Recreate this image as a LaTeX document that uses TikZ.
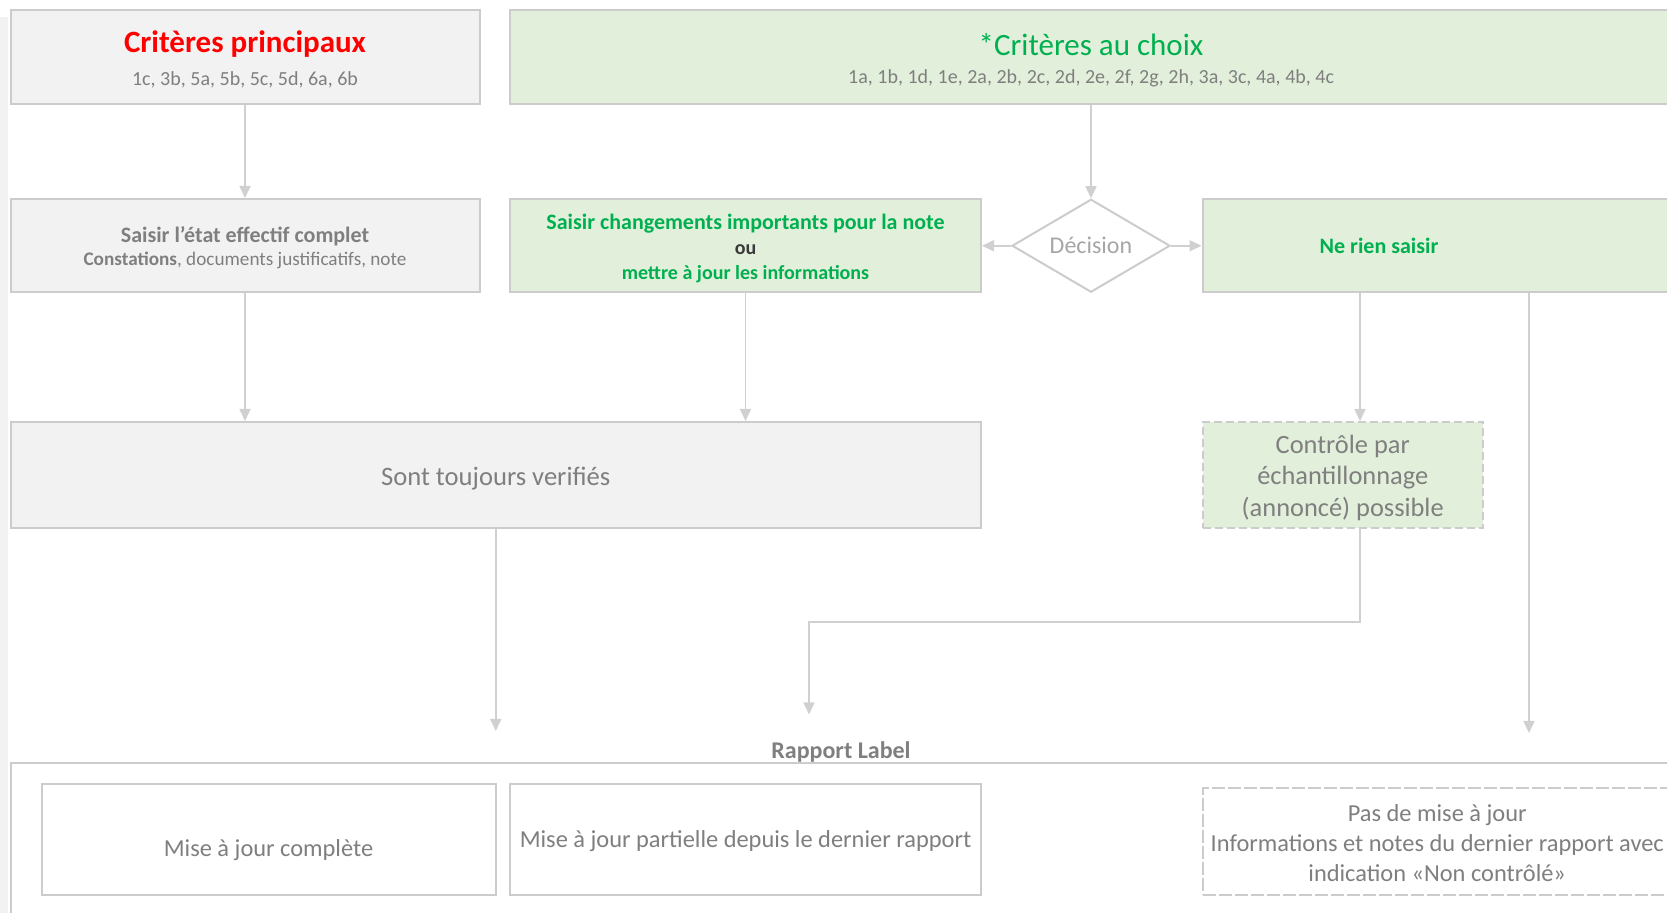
\documentclass[tikz,border=0pt]{standalone}
\usepackage{fontspec}
\setmainfont{Carlito}
\usetikzlibrary{shapes.geometric,arrows.meta}
\definecolor{boxgray}{HTML}{F2F2F2}
\definecolor{boxgreen}{HTML}{E2EFDA}
\definecolor{edge}{HTML}{CCCCCC}
\definecolor{arr}{HTML}{D0D0D0}
\definecolor{txtgray}{HTML}{7F7F7F}
\definecolor{lightgray2}{HTML}{A6A6A6}
\definecolor{darktxt}{HTML}{3A3A3A}
\definecolor{titred}{HTML}{FF0000}
\definecolor{titgreen}{HTML}{00B050}
\newcommand{\fs}[2]{\fontsize{#1}{#2}\selectfont}
\newcommand{\dn}[2]{\raisebox{-#1}[\height][\depth]{#2}}
\begin{document}
\begin{tikzpicture}[x=0.5pt,y=-0.5pt,
  box/.style={draw=edge,line width=1pt,inner sep=0pt,align=center,text=txtgray},
  graybox/.style={box,fill=boxgray},
  greenbox/.style={box,fill=boxgreen},
  whitebox/.style={box,fill=white},
  link/.style={draw=arr,line width=0.8pt,-{Triangle[length=6pt,width=5.5pt]}}]
\useasboundingbox (0,0) rectangle (1667,913);
\fill[boxgray] (0,17) rectangle (8,913);

% top row
\node[graybox,minimum width=234.5pt,minimum height=47pt,font=\fs{10}{17.5}] (A) at (245,57.5)
  {\dn{1.6pt}{\fs{15.5}{17.5}\bfseries\color{titred}Critères principaux}\\\dn{0.5pt}{1c, 3b, 5a, 5b, 5c, 5d, 6a, 6b}};
\node[greenbox,minimum width=581pt,minimum height=47pt,font=\fs{10}{15.5}] (B) at (1091,57.5)
  {\dn{2.1pt}{\fs{15.5}{15.5}\color{titgreen}*Critères au choix}\\\dn{0.5pt}{1a, 1b, 1d, 1e, 2a, 2b, 2c, 2d, 2e, 2f, 2g, 2h, 3a, 3c, 4a, 4b, 4c}};

% second row
\node[graybox,minimum width=234.5pt,minimum height=46.75pt,font=\fs{9.6}{12}] (C) at (245,245.75)
  {\dn{1pt}{\fs{11}{12}\bfseries Saisir l’état effectif complet}\\\dn{0.5pt}{\textbf{Constations}, documents justificatifs, note}};
\node[greenbox,minimum width=235.5pt,minimum height=46.75pt,font=\fs{10}{12.75}\bfseries,text=titgreen] (D) at (745.5,245.75)
  {\dn{1.6pt}{\fs{11}{12.75}Saisir changements importants pour la note}\\\dn{1.6pt}{\color{darktxt}ou}\\\dn{1pt}{mettre à jour les informations}};
\node[draw=edge,line width=1pt,fill=white,diamond,aspect=1.8,inner sep=0pt,minimum width=79pt,minimum height=46.5pt,
  text=lightgray2,font=\fs{12}{14}] (dec) at (1091,245.75) {Décision};
\node[greenbox,minimum width=243.5pt,minimum height=46.75pt] (E) at (1446,245.75) {};
\node[font=\fs{11}{13}\bfseries,text=titgreen,inner sep=0pt] (El) at (1379,245.75) {Ne rien saisir};

% third row
\node[graybox,minimum width=485.25pt,minimum height=53pt,font=\fs{13.3}{16}] (F) at (495.75,475) {\dn{1.6pt}{Sont toujours verifiés}};
\node[greenbox,dash pattern=on 4pt off 2pt,minimum width=140.25pt,minimum height=53pt,font=\fs{13.2}{15.5}] (G) at (1342.75,475)
  {\dn{1pt}{Contrôle par}\\\dn{1pt}{échantillonnage}\\\dn{1.6pt}{(annoncé) possible}};

% report frame
\draw[draw=edge,line width=1pt,fill=white] (10.5,940) -- (10.5,763) -- (1700,763);
\node[font=\fs{12}{14}\bfseries,text=txtgray,inner sep=0pt] (rl) at (841,752) {Rapport Label};
\node[whitebox,minimum width=227pt,minimum height=55.7pt,font=\fs{12.2}{15}] (H) at (268.5,839.3) {\dn{5.3pt}{Mise à jour complète}};
\node[whitebox,minimum width=235.5pt,minimum height=55.7pt,font=\fs{12.2}{15}] (I) at (745.5,839.3) {\dn{1pt}{Mise à jour partielle depuis le dernier rapport}};
\node[whitebox,dash pattern=on 6.5pt off 1.5pt,minimum width=234.75pt,minimum height=53.5pt,font=\fs{12.2}{15}] (J) at (1437.25,841.5)
  {\dn{1pt}{Pas de mise à jour}\\\dn{1pt}{Informations et notes du dernier rapport avec}\\\dn{1pt}{indication «Non contrôlé»}};

% connectors
\coordinate (gx) at (1360,0);
\coordinate (rx) at (1529,0);
\coordinate (rend) at (1529,733);
\coordinate (fend) at (495.75,731);
\coordinate (bend) at (809,622);
\coordinate (gend) at (809,714.5);
\draw[link] (A.south) -- (C.north);
\draw[link] (B.south) -- (dec.north);
\draw[link] (dec.west) -- (D.east);
\draw[link] (dec.east) -- (E.west);
\draw[link] (C.south) -- (C.south |- F.north);
\draw[link] (D.south) -- (D.south |- F.north);
\draw[link] (E.south -| gx) -- (G.north -| gx);
\draw[link] (E.south -| rx) -- (rend);
\draw[link] (F.south) -- (fend);
\draw[link] (G.south -| gx) |- (bend) -- (gend);
\end{tikzpicture}
\end{document}
